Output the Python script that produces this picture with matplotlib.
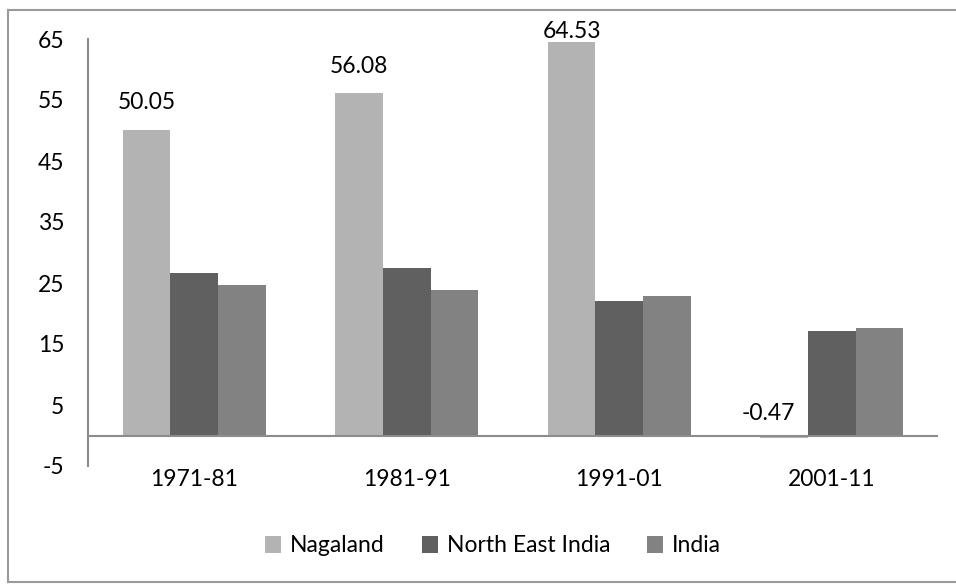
import matplotlib
matplotlib.use("Agg")
import matplotlib.pyplot as plt
import numpy as np
from matplotlib.patches import Patch
from matplotlib.lines import Line2D

plt.rcParams['font.family'] = ['Lato', 'DejaVu Sans']

categories = ["1971-81", "1981-91", "1991-01", "2001-11"]
series_names = ["Nagaland", "North East India", "India"]
nagaland = [50.05, 56.08, 64.53, -0.47]
north_east_india = [26.6, 27.4, 22.0, 17.1]
india = [24.7, 23.8, 22.8, 17.7]
yticks = [-5, 5, 15, 25, 35, 45, 55, 65]

colors = ["#b3b3b3", "#606060", "#828282"]
axis_color = "#8c8c8c"
fs = 16.5

W, H = 956, 584
fig = plt.figure(figsize=(W / 100, H / 100), dpi=100)
ax = fig.add_axes([88 / W, (H - 466) / H, 850 / W, 427 / H])

x = np.arange(len(categories))
bw = 0.224
for i, (vals, c) in enumerate(zip([nagaland, north_east_india, india], colors)):
    ax.bar(x + (i - 1) * bw, vals, width=bw, color=c, linewidth=0, zorder=2)

ax.set_xlim(-0.5, len(categories) - 0.5)
ax.set_ylim(-5, 65)
ax.set_yticks(yticks)
ax.set_yticklabels([str(t) for t in yticks], fontsize=fs)
ax.set_xticks(x)
ax.set_xticklabels(categories, fontsize=fs)
ax.tick_params(axis='y', length=0, pad=17)
ax.tick_params(axis='x', length=0, pad=2)

for s in ["top", "right", "bottom"]:
    ax.spines[s].set_visible(False)
ax.spines["left"].set_color(axis_color)
ax.spines["left"].set_linewidth(1.5)
ax.axhline(0, color=axis_color, linewidth=1.5, zorder=3)

# data labels for Nagaland
offsets = [(0, 28), (0, 27), (0, 10), (-16, 22)]
for xi, v, (dx, dy) in zip(x, nagaland, offsets):
    ax.annotate(f"{v:.2f}", xy=(xi - bw, max(v, 0)), xytext=(dx, dy),
                textcoords='offset pixels', ha='center', va='center',
                fontsize=fs, color='black', annotation_clip=False)

handles = [Patch(facecolor=c, edgecolor='none') for c in colors]
fig.legend(handles, series_names, loc='center', bbox_to_anchor=(493 / W, 1 - 546 / H),
           ncol=3, frameon=False, fontsize=fs, handlelength=0.7, handleheight=0.7,
           handletextpad=0.4, columnspacing=1.6)

# outer border (left, top, bottom)
bx0, by_top, by_bot = 7.5 / W, 1 - 9.5 / H, 1 - 582 / H
for xs, ys in [([bx0, bx0], [by_bot, by_top]), ([bx0, 1.0], [by_top, by_top]),
               ([bx0, 1.0], [by_bot, by_bot])]:
    fig.add_artist(Line2D(xs, ys, transform=fig.transFigure, color="#9a9a9a", linewidth=1.5))

fig.savefig("out.png", dpi=100)
